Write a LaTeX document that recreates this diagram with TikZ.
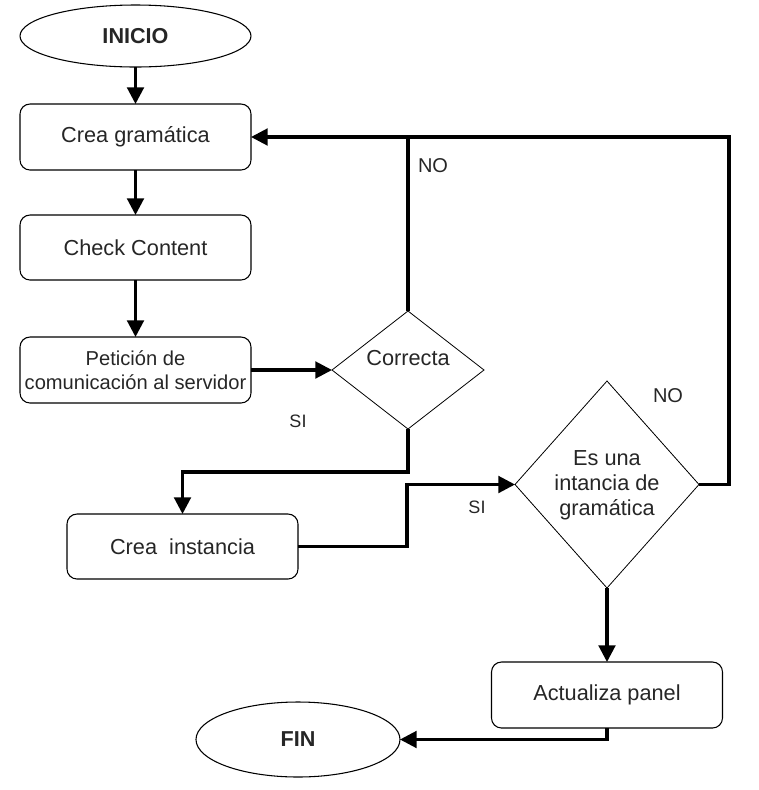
\documentclass[tikz,border=0pt]{standalone}
\usepackage{fontspec}
\setmainfont{Liberation Sans}
\usetikzlibrary{shapes.geometric,arrows.meta}
\begin{document}
\begin{tikzpicture}[x=0.75pt,y=-0.75pt,
  every node/.style={inner sep=0pt,outer sep=0pt,text=black!85},
  main/.style={font=\fontsize{16.3}{19}\selectfont},
  procbox/.style={main,draw,line width=0.8pt,rounded corners=7.5pt,minimum width=173.25pt,minimum height=49.5pt,align=center},
  term/.style={draw,ellipse,line width=0.8pt,font=\fontsize{16.2}{19}\selectfont\bfseries},
  decis/.style={draw,diamond,line width=0.6pt,main,align=center},
  lbl/.style={font=\fontsize{15}{18}\selectfont},
  silbl/.style={font=\fontsize{13.5}{16}\selectfont},
  conn/.style={line width=2.3pt,-{Triangle[length=12.5pt,width=12.5pt]}},
  plain/.style={line width=2.3pt}]
\useasboundingbox (0,0) rectangle (758,790);
% nodes
\node[term,minimum width=173.25pt,minimum height=46.5pt] (inicio) at (135.5,36) {INICIO};
\node[procbox] (crea) at (135.5,137) {Crea gram\'atica};
\node[procbox,minimum height=48.75pt] (check) at (135.5,247.5) {Check Content};
\node[procbox,font=\fontsize{15.1}{17.6}\selectfont] (pet) at (135.5,370) {Petici\'on de\\comunicaci\'on al servidor};
\node[decis,minimum width=114pt,minimum height=88.5pt] (c1) at (408,370) {};
\node[main] (c1t) at (408,358) {Correcta};
\node[procbox,minimum height=48.75pt] (inst) at (182.5,546.5) {Crea\ \ instancia};
\node[decis,minimum width=138pt,minimum height=155.25pt] (c2) at (607,484.5) {};
\node[main,align=center,font=\fontsize{16.3}{18.75}\selectfont] (c2t) at (607,485) {Es una\\intancia de\\gram\'atica};
\node[procbox] (act) at (607,695) {Actualiza panel};
\node[term,minimum width=153pt,minimum height=56.25pt] (fin) at (298,739.5) {FIN};
% labels
\node[lbl] (no1) at (433,166) {NO};
\node[lbl] (no2) at (668,396) {NO};
\node[silbl] (si1) at (298,421) {SI};
\node[silbl] (si2) at (477,507) {SI};
% helper coordinates
\coordinate (tr) at (729,137);
\coordinate (j1) at (408,472);
\coordinate (j2) at (407,500);
% connectors
\draw[conn] (inicio) -- (crea);
\draw[conn] (crea) -- (check);
\draw[conn] (check) -- (pet);
\draw[conn] (pet.east) -- (c1.west);
\draw[plain] (c1.north) -- (c1.north |- crea.east);
\draw[conn] (c2.east) -| (tr) -- (crea.east);
\draw[conn] (c1.south) -- (j1) -| (inst.north);
\draw[conn] (inst.east) -- (j2 |- inst.east) -- (j2 |- c2.west) -- (c2.west);
\draw[conn] (c2.south) -- (act.north);
\draw[conn] (act.south) |- (fin.east);
\end{tikzpicture}
\end{document}
